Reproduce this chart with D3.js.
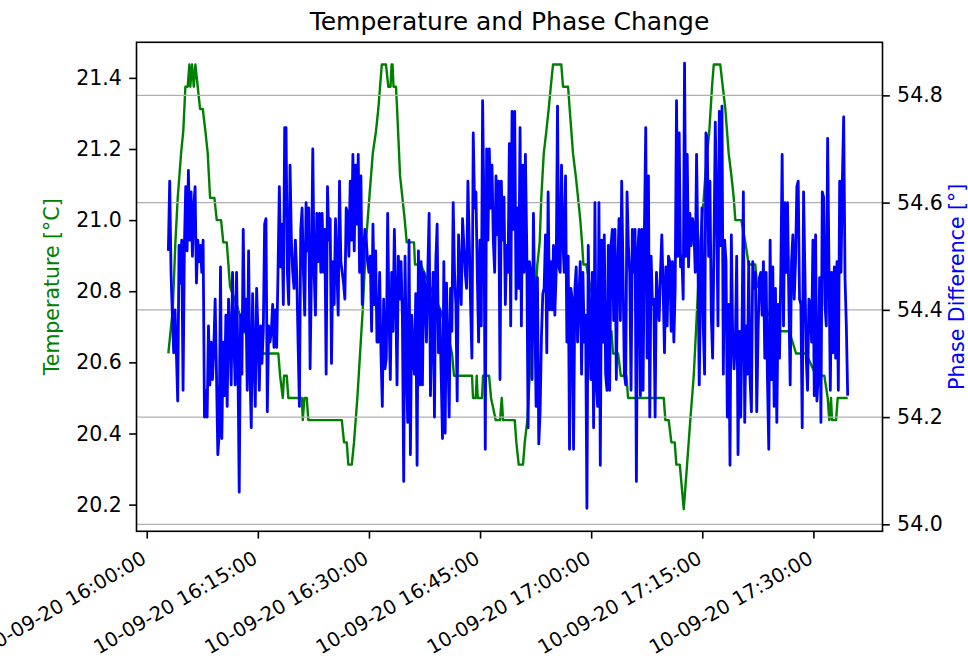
<!DOCTYPE html>
<html>
<head>
<meta charset="utf-8">
<script src="https://cdn.jsdelivr.net/npm/d3@7"></script>
<style>
  html, body { margin: 0; padding: 0; background: #fff; }
  svg { display: block; font-family: "DejaVu Sans", sans-serif; }
  svg text { font-family: "DejaVu Sans", sans-serif; }
</style>
</head>
<body>
<svg id="chart" width="968" height="659"></svg>
<script>
// Logging session start; all times below are seconds after it.
const sessionStart = "2020-10-09 16:00:00";

// Temperature readings [seconds, °C] (sensor resolution 1/16 °C)
const tempReadings = [
  [175,20.625],[211,20.75],[232,20.9375],[251,21.0625],[278,21.1875],[296,21.25],[313,21.375],[332,21.375],
  [345,21.4375],[353,21.375],[367,21.4375],[381,21.375],[394,21.4375],[413,21.375],[432,21.3125],[454,21.3125],
  [475,21.25],[494,21.1875],[513,21.0625],[548,21.0625],[567,21.0],[602,21.0],[620,20.9375],[648,20.9375],
  [675,20.8125],[740,20.75],[796,20.6875],[853,20.625],[1066,20.625],[1080,20.5625],[1102,20.5],[1112,20.5625],
  [1134,20.5625],[1147,20.5],[1256,20.5],[1264,20.4375],[1277,20.5],[1296,20.5],[1309,20.4375],[1580,20.4375],
  [1598,20.375],[1620,20.375],[1633,20.3125],[1661,20.3125],[1679,20.375],[1706,20.5],[1728,20.625],[1750,20.75],
  [1776,20.9375],[1803,21.0625],[1831,21.1875],[1857,21.25],[1876,21.3125],[1890,21.375],[1904,21.4375],[1938,21.4375],
  [1957,21.375],[1975,21.375],[1983,21.4375],[1991,21.4375],[1999,21.375],[2019,21.375],[2028,21.3125],[2036,21.25],
  [2052,21.125],[2071,21.0625],[2090,21.0],[2106,20.9375],[2165,20.9375],[2173,20.875],[2220,20.875],[2295,20.8125],
  [2376,20.75],[2433,20.6875],[2473,20.625],[2489,20.5625],[2635,20.5625],[2643,20.5],[2665,20.5],[2673,20.5625],
  [2681,20.5],[2716,20.5],[2724,20.5625],[2773,20.5625],[2789,20.5],[2827,20.4375],[2862,20.4375],[2876,20.5],
  [2886,20.4375],[2981,20.4375],[2994,20.375],[3013,20.3125],[3048,20.3125],[3062,20.375],[3083,20.4375],[3102,20.5625],
  [3121,20.6875],[3143,20.75],[3164,20.875],[3183,20.9375],[3196,21.0625],[3216,21.1875],[3237,21.25],[3256,21.3125],
  [3273,21.375],[3291,21.4375],[3358,21.4375],[3372,21.375],[3413,21.375],[3426,21.3125],[3453,21.1875],[3475,21.125],
  [3494,21.0625],[3512,21.0],[3526,20.9375],[3537,20.875],[3561,20.875],[3591,20.8125],[3640,20.75],[3696,20.6875],
  [3764,20.6875],[3777,20.625],[3818,20.625],[3840,20.5625],[3885,20.5625],[3899,20.5],[4188,20.5],[4201,20.4375],
  [4228,20.4375],[4250,20.375],[4277,20.375],[4290,20.3125],[4318,20.3125],[4350,20.1875],[4377,20.3125],[4403,20.4375],
  [4431,20.5625],[4458,20.75],[4484,20.9375],[4512,21.0625],[4539,21.1875],[4557,21.25],[4579,21.375],[4593,21.4375],
  [4646,21.4375],[4666,21.375],[4687,21.3125],[4714,21.1875],[4736,21.125],[4755,21.0625],[4768,21.0],[4816,21.0],
  [4849,20.9375],[4876,20.875],[4930,20.875],[4944,20.8125],[4984,20.8125],[5017,20.75],[5114,20.6875],[5205,20.6875],
  [5260,20.625],[5341,20.625],[5422,20.5625],[5489,20.5625],[5516,20.5],[5529,20.4375],[5543,20.5],[5551,20.4375],
  [5584,20.4375],[5597,20.5],[5678,20.5]
];

// Phase difference samples, evenly spaced between first and last sample time
const phaseFirstSecond = 175;
const phaseLastSecond = 5678;
const phaseValues = [
  54.51,54.64,54.47,54.39,54.32,54.40,54.32,54.23,54.52,54.45,
  54.53,54.25,54.52,54.63,54.51,54.66,54.53,54.62,54.50,54.59,
  54.63,54.45,54.53,54.49,54.52,54.47,54.53,54.20,54.25,54.20,
  54.37,54.26,54.34,54.27,54.33,54.42,54.28,54.13,54.17,54.48,
  54.16,54.34,54.24,54.39,54.22,54.42,54.36,54.26,54.47,54.34,
  54.26,54.47,54.31,54.06,54.39,54.28,54.55,54.36,54.42,54.25,
  54.51,54.29,54.18,54.43,54.31,54.22,54.44,54.36,54.25,54.37,
  54.30,54.36,54.56,
  54.57,54.21,54.37,54.34,54.36,54.41,54.33,54.40,54.33,54.47,
  54.63,54.48,54.56,54.41,54.74,54.74,54.47,54.41,54.67,54.53,
  54.47,54.44,54.53,54.47,54.34,54.22,54.55,54.59,54.47,54.39,
  54.60,54.51,54.59,54.29,54.47,54.70,54.47,54.39,54.58,54.49,
  54.58,54.47,54.58,54.47,54.55,54.28,54.63,54.53,54.57,54.30,
  54.49,54.41,54.57,54.48,54.39,54.64,54.49,54.47,54.45,54.42,
  54.59,54.58,54.50,54.64,54.53,54.69,54.51,54.67,54.56,54.69,
  54.47,54.65,54.41,54.51,54.55,54.53,54.49,54.47,54.50,54.36,
  54.56,54.41,54.51,54.34,54.34,54.47,54.32,54.22,54.42,54.29,
  54.31,
  54.58,54.39,54.27,54.47,54.36,54.55,54.43,54.26,54.50,54.42,
  54.49,54.39,54.08,54.50,54.31,54.19,54.53,54.13,54.39,54.32,
  54.28,54.43,54.11,54.51,54.26,54.49,54.26,54.47,54.44,54.34,
  54.47,54.58,54.24,54.36,54.47,54.20,54.49,54.56,54.32,54.40,
  54.28,54.16,54.49,54.17,54.45,54.33,54.20,54.44,54.36,54.60,
  54.47,54.41,54.23,54.54,54.47,54.41,54.57,54.52,54.47,54.44,
  54.64,54.53,54.41,54.31,54.73,54.59,54.62,54.47,54.34,54.53,
  54.37,54.79,54.59,54.14,54.70,54.53,54.70,54.59,54.67,54.53,
  54.47,54.65,54.54,54.64,54.27,54.64,54.53,54.61,54.41,54.52,
  54.47,54.71,
  54.37,54.77,54.55,54.77,54.42,54.59,54.44,54.74,54.37,54.67,
  54.47,54.69,54.52,54.18,54.49,54.47,54.27,54.58,54.41,54.22,
  54.46,54.15,54.21,54.35,54.43,54.44,54.54,54.32,54.62,54.40,
  54.49,54.40,54.52,54.39,54.47,54.78,54.48,54.47,54.67,54.53,
  54.47,54.65,54.34,54.50,54.14,54.44,54.42,54.14,54.44,54.48,
  54.34,54.42,54.49,54.28,54.47,54.34,54.39,54.03,54.52,54.36,
  54.27,54.47,54.18,54.60,54.26,54.22,54.60,54.11,54.53,54.34,
  54.54,54.28,54.25,54.52,54.25,54.52,54.55,54.38,54.55,54.27,
  54.47,54.57,54.38,54.64,54.47,54.28,54.26,54.62,54.52,54.47,
  54.25,54.55,54.47,54.55,
  54.08,54.51,54.55,54.24,54.55,54.25,54.55,54.74,54.31,54.65,
  54.20,54.50,54.41,54.42,54.20,54.47,54.41,54.38,54.47,54.54,
  54.44,54.32,54.48,54.37,54.50,54.49,54.36,54.49,54.34,54.44,
  54.79,54.50,54.73,54.48,54.50,54.42,54.86,54.50,54.69,54.48,
  54.58,54.52,54.57,54.55,54.47,54.69,54.50,54.26,54.44,54.59,
  54.37,54.28,54.73,54.72,54.50,54.64,54.39,54.31,54.52,54.75,
  54.59,54.37,54.77,54.52,54.78,54.28,54.53,54.49,54.20,54.41,
  54.11,54.54,54.35,54.29,54.34,54.50,54.13,54.36,54.20,54.37,
  54.62,54.19,54.37,54.28,54.49,54.27,54.21,54.49,54.44,54.47,
  54.21,54.36,54.46,54.47,54.39,54.49,54.31,54.47,54.27,54.14,
  54.53,54.27,54.48,54.22,54.44,54.19,54.41,54.31,54.47,54.69,
  54.37,54.60,54.47,54.60,54.42,54.26,54.49,54.54,54.42,54.49,
  54.63,54.64,54.42,54.41,54.18,54.62,54.47,54.31,54.25,54.42,
  54.41,54.34,54.53,54.24,54.54,54.23,54.28,54.46,54.19,54.62,
  54.61,54.41,54.37,54.72,54.48,54.25,54.47,54.32,54.48,54.31,
  54.49,54.25,54.64,54.47,54.64,54.76,54.46,54.37,54.24
];

// Axis limits and ticks
const timeLimits = [-83, 5960];            // seconds after session start
const timeTicks = ["16:00:00", "16:15:00", "16:30:00", "16:45:00", "17:00:00", "17:15:00", "17:30:00"];
const tempLimits = [20.125, 21.5];
const tempTicks = [20.2, 20.4, 20.6, 20.8, 21.0, 21.2, 21.4];
const phaseLimits = [53.987, 54.899];
const phaseTicks = [54.0, 54.2, 54.4, 54.6, 54.8];

const chartTitle = "Temperature and Phase Change";
const tempLabel = "Temperature [°C]";
const phaseLabel = "Phase Difference [°]";

// ---------------------------------------------------------------
const FONT = "'DejaVu Sans', sans-serif";
const parseFull = d3.timeParse("%Y-%m-%d %H:%M:%S");
const t0 = parseFull(sessionStart);
const atSecond = s => new Date(t0.getTime() + s * 1000);
const dayPart = sessionStart.slice(0, 10);

const temperature = tempReadings.map(([s, v]) => ({ t: atSecond(s), v }));
const stepSec = (phaseLastSecond - phaseFirstSecond) / (phaseValues.length - 1);
const phase = phaseValues.map((v, i) => ({ t: atSecond(phaseFirstSecond + i * stepSec), v }));

const box = { left: 136.5, right: 882.5, top: 42.3, bottom: 531.3 };
const fontSize = 20.5;
const timeFontSize = 19.8;
const tickLen = 7.3;

const svg = d3.select("#chart");

const x = d3.scaleTime().domain(timeLimits.map(atSecond)).range([box.left, box.right]);
const yT = d3.scaleLinear().domain(tempLimits).range([box.bottom, box.top]);
const yP = d3.scaleLinear().domain(phaseLimits).range([box.bottom, box.top]);

svg.append("clipPath").attr("id", "plotclip")
  .append("rect")
  .attr("x", box.left).attr("y", box.top)
  .attr("width", box.right - box.left).attr("height", box.bottom - box.top);

// temperature trace (primary axes)
svg.append("path")
  .datum(temperature)
  .attr("clip-path", "url(#plotclip)")
  .attr("fill", "none")
  .attr("stroke", "#008000")
  .attr("stroke-width", 2.4)
  .attr("stroke-linejoin", "round")
  .attr("d", d3.line().x(d => x(d.t)).y(d => yT(d.v)));

// horizontal grid from the phase axis
svg.append("g")
  .selectAll("line")
  .data(phaseTicks)
  .join("line")
  .attr("x1", box.left).attr("x2", box.right)
  .attr("y1", d => yP(d)).attr("y2", d => yP(d))
  .attr("stroke", "#b0b0b0")
  .attr("stroke-width", 1.3);

// phase trace (secondary axes, on top)
svg.append("path")
  .datum(phase)
  .attr("clip-path", "url(#plotclip)")
  .attr("fill", "none")
  .attr("stroke", "#0000ff")
  .attr("stroke-width", 2.8)
  .attr("stroke-linejoin", "round")
  .attr("d", d3.line().x(d => x(d.t)).y(d => yP(d.v)));

// frame
svg.append("rect")
  .attr("x", box.left).attr("y", box.top)
  .attr("width", box.right - box.left).attr("height", box.bottom - box.top)
  .attr("fill", "none").attr("stroke", "#000").attr("stroke-width", 1.6);

function styleAxis(g) {
  g.attr("font-family", null).attr("font-size", null);
  g.select(".domain").remove();
  g.selectAll(".tick line").attr("stroke", "#000").attr("stroke-width", 1.6);
  g.selectAll(".tick text").attr("fill", "#000")
    .style("font-size", fontSize + "px")
    .style("font-family", FONT);
}

// left axis
svg.append("g")
  .attr("transform", `translate(${box.left},0)`)
  .call(d3.axisLeft(yT).tickValues(tempTicks).tickSize(tickLen).tickPadding(7.3).tickFormat(d3.format(".1f")))
  .call(styleAxis);

// right axis
svg.append("g")
  .attr("transform", `translate(${box.right},0)`)
  .call(d3.axisRight(yP).tickValues(phaseTicks).tickSize(tickLen).tickPadding(7.3).tickFormat(d3.format(".1f")))
  .call(styleAxis);

// bottom time axis with slanted labels
const tickDates = timeTicks.map(s => parseFull(dayPart + " " + s));
const fmt = d3.timeFormat("%m-%d-%y %H:%M:%S");
const xAxisG = svg.append("g")
  .attr("transform", `translate(0,${box.bottom})`)
  .call(d3.axisBottom(x).tickValues(tickDates).tickSize(tickLen).tickFormat(""))
  .call(styleAxis);
xAxisG.selectAll(".tick text").remove();
xAxisG.selectAll(".tick").append("text")
  .attr("text-anchor", "end")
  .attr("fill", "#000")
  .style("font-size", timeFontSize + "px")
  .style("font-family", FONT)
  .attr("transform", "translate(0.5,31) rotate(-30)")
  .text(d => fmt(d));

// title
svg.append("text")
  .attr("x", (box.left + box.right) / 2)
  .attr("y", box.top - 12.5)
  .attr("text-anchor", "middle")
  .attr("fill", "#000")
  .style("font-size", "25px")
  .style("font-family", FONT)
  .text(chartTitle);

// axis titles
const midY = (box.top + box.bottom) / 2;
svg.append("text")
  .attr("transform", `translate(59,${midY}) rotate(-90)`)
  .attr("text-anchor", "middle")
  .attr("fill", "#008000")
  .style("font-size", fontSize + "px")
  .style("font-family", FONT)
  .text(tempLabel);

svg.append("text")
  .attr("transform", `translate(964,${midY}) rotate(-90)`)
  .attr("text-anchor", "middle")
  .attr("fill", "#0000ff")
  .style("font-size", fontSize + "px")
  .style("font-family", FONT)
  .text(phaseLabel);
</script>
</body>
</html>
